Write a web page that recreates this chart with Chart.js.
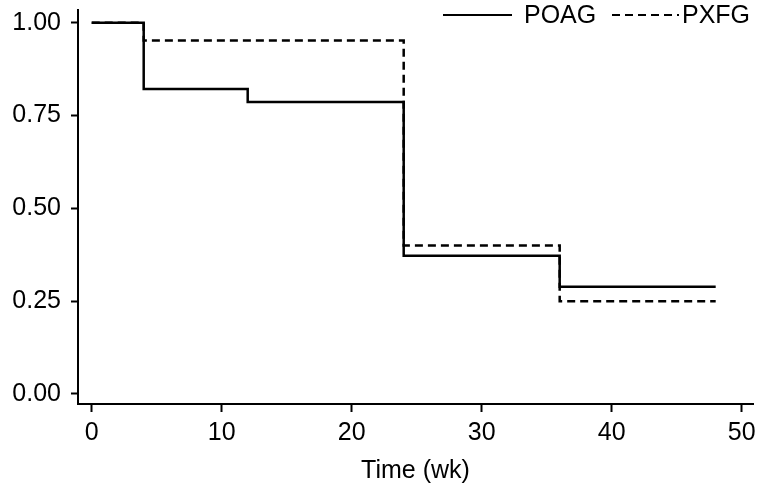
<!DOCTYPE html>
<html>
<head>
<meta charset="utf-8">
<script src="https://cdn.jsdelivr.net/npm/chart.js@4/dist/chart.umd.min.js"></script>
<style>
  html, body { margin: 0; padding: 0; background: #fff; }
  canvas { display: block; }
</style>
</head>
<body>
<canvas id="c" width="764" height="486"></canvas>
<script>
// ---- data ----
const timesWk = [0, 4, 12, 24, 36, 48];
const poagSurvival = [1.0, 0.821, 0.786, 0.372, 0.289, 0.289];
const pxfgSurvival = [1.0, 0.952, 0.952, 0.400, 0.250, 0.250];
const seriesLabels = ['POAG', 'PXFG'];
const xTickValues = [0, 10, 20, 30, 40, 50];
const yTickValues = [0, 0.25, 0.5, 0.75, 1.0];
const xTitle = 'Time (wk)';

const toPoints = (xs, ys) => xs.map((x, i) => ({ x: x, y: ys[i] }));

const FONT = 'Liberation Sans, Arial, sans-serif';
Chart.defaults.font.family = FONT;
Chart.defaults.font.size = 25;
Chart.defaults.color = '#000';

// custom legend drawn at the top right, overlapping the plot region
const legendLayout = { lineStart: [443, 612], lineLen: [69, 67], textX: [524, 682], y: 15 };
const topLegend = {
  id: 'topLegend',
  afterDraw(chart) {
    const ctx = chart.ctx;
    ctx.save();
    chart.data.datasets.forEach((ds, i) => {
      ctx.beginPath();
      ctx.setLineDash(ds.borderDash || []);
      ctx.lineWidth = 2;
      ctx.strokeStyle = ds.borderColor;
      ctx.moveTo(legendLayout.lineStart[i], legendLayout.y);
      ctx.lineTo(legendLayout.lineStart[i] + legendLayout.lineLen[i], legendLayout.y);
      ctx.stroke();
      ctx.setLineDash([]);
      ctx.fillStyle = '#000';
      ctx.font = '25px ' + FONT;
      ctx.textBaseline = 'middle';
      ctx.textAlign = 'left';
      ctx.fillText(ds.label, legendLayout.textX[i], legendLayout.y + 1);
    });
    ctx.restore();
  }
};

new Chart(document.getElementById('c'), {
  type: 'line',
  data: {
    datasets: [
      {
        label: seriesLabels[0],
        data: toPoints(timesWk, poagSurvival),
        stepped: 'before',
        borderColor: '#000',
        borderWidth: 2.5,
        pointRadius: 0,
        fill: false
      },
      {
        label: seriesLabels[1],
        data: toPoints(timesWk, pxfgSurvival),
        stepped: 'before',
        borderColor: '#000',
        borderWidth: 2.5,
        borderDash: [8, 5],
        pointRadius: 0,
        fill: false
      }
    ]
  },
  options: {
    responsive: false,
    animation: false,
    layout: { padding: { top: 10, right: 11, left: 0, bottom: 0 } },
    plugins: { legend: { display: false }, tooltip: { enabled: false } },
    scales: {
      x: {
        type: 'linear',
        min: -1.054,
        max: 50.87,
        afterBuildTicks: s => { s.ticks = xTickValues.map(v => ({ value: v })); },
        afterFit: s => { s.height = 82; },
        grid: { display: true, drawOnChartArea: false, drawTicks: true, tickLength: 8, tickWidth: 2, tickColor: '#000' },
        border: { display: true, color: '#000', width: 2 },
        ticks: { padding: 6, color: '#000', font: { size: 25 }, maxRotation: 0, callback: v => String(v) },
        title: { display: true, text: xTitle, color: '#000', font: { size: 25 }, padding: { top: 2, bottom: 0 } }
      },
      y: {
        type: 'linear',
        min: -0.027,
        max: 1.034,
        afterBuildTicks: s => { s.ticks = yTickValues.map(v => ({ value: v })); },
        afterFit: s => { s.width = 78; s.paddingTop = 0; s.paddingBottom = 0; },
        grid: { display: true, drawOnChartArea: false, drawTicks: true, tickLength: 7, tickWidth: 2, tickColor: '#000' },
        border: { display: true, color: '#000', width: 2 },
        ticks: { padding: 10, color: '#000', font: { size: 25 }, callback: v => v.toFixed(2) }
      }
    }
  },
  plugins: [topLegend]
});
</script>
</body>
</html>
